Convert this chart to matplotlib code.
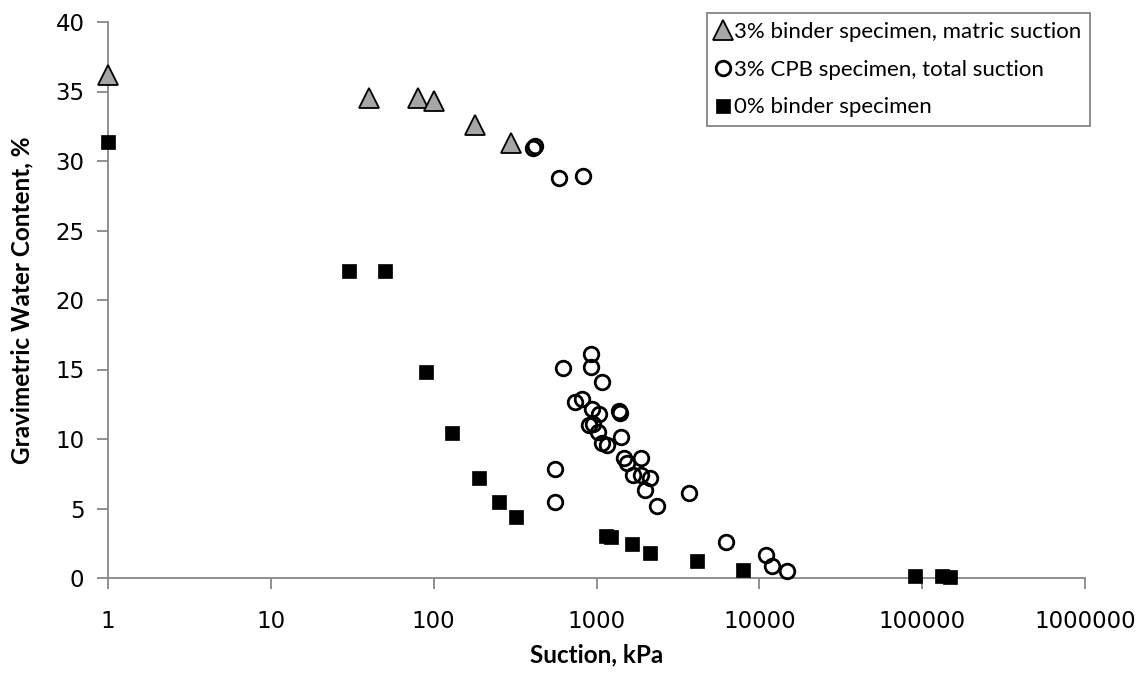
import matplotlib
matplotlib.use("Agg")
import matplotlib.pyplot as plt
from matplotlib.ticker import FixedLocator, FixedFormatter, NullLocator

# 3% binder specimen, matric suction
tri_x = [1, 40, 80, 100, 180, 300]
tri_y = [36.2, 34.5, 34.5, 34.3, 32.6, 31.3]

# 3% CPB specimen, total suction
circ_x = [410, 421, 592, 824,
          927, 927, 621, 1087, 739, 819, 944, 1038, 1377, 1396,
          897, 957, 1018, 1410, 1082, 1167, 559, 558,
          1484, 1536, 1872, 1671, 1872, 2134, 1988, 2345,
          3706, 6253, 11000, 11990, 14750]
circ_y = [30.9, 31.07, 28.8, 28.9,
          16.1, 15.2, 15.1, 14.08, 12.64, 12.9, 12.18, 11.78, 12.0, 11.9,
          11.03, 11.08, 10.5, 10.17, 9.73, 9.59, 7.84, 5.5,
          8.6, 8.25, 8.66, 7.39, 7.43, 7.17, 6.33, 5.2,
          6.1, 2.6, 1.63, 0.86, 0.48]

# 0% binder specimen
sq_x = [1, 30, 50, 90, 130, 191, 251, 321, 1140, 1224, 1662, 2134,
        4168, 7920, 91000, 133000, 148500]
sq_y = [31.4, 22.07, 22.1, 14.8, 10.45, 7.2, 5.5, 4.4, 3.04, 2.93, 2.47, 1.78,
        1.25, 0.58, 0.12, 0.17, 0.07]

x_ticks = [1, 10, 100, 1000, 10000, 100000, 1000000]
x_labels = ["1", "10", "100", "1000", "10000", "100000", "1000000"]
y_ticks = [0, 5, 10, 15, 20, 25, 30, 35, 40]

labels = ["3% binder specimen, matric suction",
          "3% CPB specimen, total suction",
          "0% binder specimen"]

axis_gray = "#888888"

fig = plt.figure(figsize=(11.4, 6.8), dpi=100)
ax = fig.add_axes([108 / 1140, 1 - 578 / 680, (1085 - 108) / 1140, (578 - 22) / 680])

ax.plot(tri_x, tri_y, linestyle="none", marker="^", markersize=14,
        markerfacecolor="#a6a6a6", markeredgecolor="black", markeredgewidth=1.3,
        label=labels[0], clip_on=False, zorder=3)
ax.plot(circ_x, circ_y, linestyle="none", marker="o", markersize=10.5,
        markerfacecolor="none", markeredgecolor="black", markeredgewidth=2,
        label=labels[1], clip_on=False, zorder=3)
ax.plot(sq_x, sq_y, linestyle="none", marker="s", markersize=10.5,
        markerfacecolor="black", markeredgecolor="black", markeredgewidth=0.5,
        label=labels[2], clip_on=False, zorder=3)

ax.set_xscale("log")
ax.set_xlim(1, 1e6)
ax.set_ylim(0, 40)
ax.xaxis.set_major_locator(FixedLocator(x_ticks))
ax.xaxis.set_major_formatter(FixedFormatter(x_labels))
ax.xaxis.set_minor_locator(NullLocator())
ax.set_yticks(y_ticks)

for side in ("top", "right"):
    ax.spines[side].set_visible(False)
for side in ("left", "bottom"):
    ax.spines[side].set_color(axis_gray)
    ax.spines[side].set_linewidth(1.3)

ax.tick_params(axis="both", direction="out", length=8, width=1.3, color=axis_gray,
               labelsize=16.5, labelcolor="black")
ax.tick_params(axis="x", pad=15)
ax.tick_params(axis="y", pad=9)

ax.set_xlabel("Suction, kPa", fontsize=17.5, fontweight="bold", family="Lato")
ax.set_ylabel("Gravimetric Water Content, %", fontsize=17.5, fontweight="bold",
              family="Lato")
ax.xaxis.set_label_coords(0.5, -(655 - 578) / 556, transform=ax.transAxes)
ax.yaxis.set_label_coords(-(108 - 22) / 977, 0.5, transform=ax.transAxes)
ax.xaxis.label.set_va("center")
ax.yaxis.label.set_va("center")

leg = ax.legend(loc="upper right", bbox_to_anchor=(1090 / 1140, 1 - 13 / 680),
                bbox_transform=fig.transFigure, borderaxespad=0,
                prop={"family": "Lato", "size": 16},
                frameon=True, fancybox=False, handlelength=0.6,
                handletextpad=0.2, labelspacing=0.8, borderpad=0.4)
leg.get_frame().set_edgecolor("#666666")
leg.get_frame().set_linewidth(1.3)

fig.savefig("out.png", dpi=100)
